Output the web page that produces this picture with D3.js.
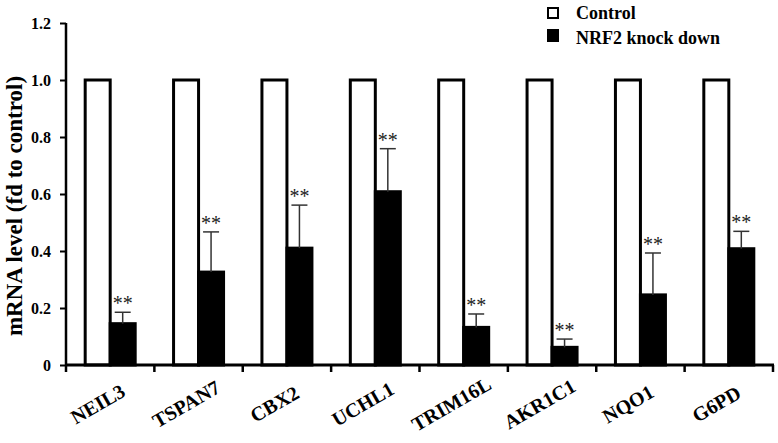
<!DOCTYPE html>
<html>
<head>
<meta charset="utf-8">
<script src="https://cdn.jsdelivr.net/npm/d3@7"></script>
<style>
  html, body { margin: 0; padding: 0; background: #fff; }
  svg { display: block; }
  text { font-family: "Liberation Serif", "Times New Roman", serif; }
</style>
</head>
<body>
<svg id="chart" width="778" height="443"></svg>
<script>
const categories = ["NEIL3", "TSPAN7", "CBX2", "UCHL1", "TRIM16L", "AKR1C1", "NQO1", "G6PD"];
const controlValues = [1, 1, 1, 1, 1, 1, 1, 1];
const knockdownValues = [0.145, 0.326, 0.41, 0.608, 0.132, 0.062, 0.246, 0.408];
const knockdownErrors = [0.04, 0.141, 0.151, 0.151, 0.047, 0.029, 0.147, 0.061];
const significance = ["**", "**", "**", "**", "**", "**", "**", "**"];
const yTicks = [0, 0.2, 0.4, 0.6, 0.8, 1.0, 1.2];
const yTickLabels = ["0", "0.2", "0.4", "0.6", "0.8", "1.0", "1.2"];
const seriesNames = ["Control", "NRF2 knock down"];
const yTitle = "mRNA level (fd to control)";

const svg = d3.select("#chart");
const pLeft = 66, pRight = 773, pTop = 23, pBottom = 365;

const x = d3.scaleBand().domain(categories).range([pLeft, pRight]).padding(0);
const y = d3.scaleLinear().domain([0, 1.2]).range([pBottom, pTop]);
const bw = x.bandwidth();
const barW = 25;

const g = svg.append("g");

// Control bars (white with black outline)
g.selectAll("rect.ctrl").data(categories).enter().append("rect")
  .attr("class", "ctrl")
  .attr("x", (c) => x(c) + bw / 2 - barW)
  .attr("y", (c, i) => y(controlValues[i]))
  .attr("width", barW)
  .attr("height", (c, i) => y(0) - y(controlValues[i]))
  .attr("fill", "#fff").attr("stroke", "#000").attr("stroke-width", 3);

// Knockdown bars (black)
g.selectAll("rect.kd").data(categories).enter().append("rect")
  .attr("class", "kd")
  .attr("x", (c) => x(c) + bw / 2)
  .attr("y", (c, i) => y(knockdownValues[i]))
  .attr("width", barW)
  .attr("height", (c, i) => y(0) - y(knockdownValues[i]))
  .attr("fill", "#000").attr("stroke", "#000").attr("stroke-width", 3);

// Error bars
const cx = (c) => x(c) + bw / 2 + barW / 2;
g.selectAll("line.err").data(categories).enter().append("line")
  .attr("class", "err")
  .attr("x1", cx).attr("x2", cx)
  .attr("y1", (c, i) => y(knockdownValues[i]))
  .attr("y2", (c, i) => y(knockdownValues[i] + knockdownErrors[i]))
  .attr("stroke", "#333").attr("stroke-width", 1.5);
g.selectAll("line.cap").data(categories).enter().append("line")
  .attr("class", "cap")
  .attr("x1", (c) => cx(c) - 8).attr("x2", (c) => cx(c) + 8)
  .attr("y1", (c, i) => y(knockdownValues[i] + knockdownErrors[i]))
  .attr("y2", (c, i) => y(knockdownValues[i] + knockdownErrors[i]))
  .attr("stroke", "#333").attr("stroke-width", 1.5);

// Significance stars
g.selectAll("text.sig").data(categories).enter().append("text")
  .attr("class", "sig")
  .attr("x", cx)
  .attr("y", (c, i) => y(knockdownValues[i] + knockdownErrors[i]) - 2)
  .attr("text-anchor", "middle")
  .attr("font-size", 20)
  .attr("fill", "#222")
  .text((c, i) => significance[i]);

// Y axis
const yAxis = d3.axisLeft(y).tickValues(yTicks)
  .tickFormat((d, i) => yTickLabels[i]).tickSize(6).tickPadding(9);
const ya = svg.append("g").attr("transform", `translate(${pLeft},0)`).call(yAxis);
ya.select(".domain").attr("stroke", "#000").attr("stroke-width", 2.5)
  .attr("d", `M0,${pTop}V${pBottom}`);
ya.selectAll(".tick line").attr("stroke", "#000").attr("stroke-width", 2);
ya.selectAll(".tick text")
  .attr("font-family", "Liberation Serif, Times New Roman, serif")
  .attr("font-weight", "bold").attr("font-size", 16).attr("fill", "#000");

// X axis line and boundary ticks
svg.append("line").attr("x1", pLeft - 1).attr("x2", pRight + 1)
  .attr("y1", pBottom).attr("y2", pBottom)
  .attr("stroke", "#000").attr("stroke-width", 3);
const boundaries = categories.map((c) => x(c)).concat([x.range()[1]]);
svg.selectAll("line.xt").data(boundaries).enter().append("line")
  .attr("class", "xt")
  .attr("x1", (d) => d).attr("x2", (d) => d)
  .attr("y1", pBottom).attr("y2", pBottom + 7)
  .attr("stroke", "#000").attr("stroke-width", 2.5);

// X labels
svg.selectAll("text.xl").data(categories).enter().append("text")
  .attr("class", "xl")
  .attr("transform", (c) => `translate(${x(c) + bw / 2 - 9},410) rotate(-30)`)
  .attr("text-anchor", "middle")
  .attr("font-weight", "bold").attr("font-size", 20).attr("fill", "#000")
  .text((c) => c);

// Y title
svg.append("text")
  .attr("transform", `translate(22,206) rotate(-90)`)
  .attr("text-anchor", "middle")
  .attr("font-weight", "bold").attr("font-size", 23).attr("fill", "#000")
  .text(yTitle);

// Legend
const legend = svg.append("g");
const lx = 547;
legend.append("rect").attr("x", lx + 1).attr("y", 8).attr("width", 10).attr("height", 10)
  .attr("fill", "#fff").attr("stroke", "#000").attr("stroke-width", 2);
legend.append("rect").attr("x", lx).attr("y", 29).attr("width", 12).attr("height", 13)
  .attr("fill", "#000");
legend.selectAll("text.lg").data(seriesNames).enter().append("text")
  .attr("class", "lg")
  .attr("x", 576).attr("y", (d, i) => 19 + i * 25)
  .attr("font-weight", "bold").attr("font-size", 18).attr("fill", "#000")
  .text((d) => d);
</script>
</body>
</html>
